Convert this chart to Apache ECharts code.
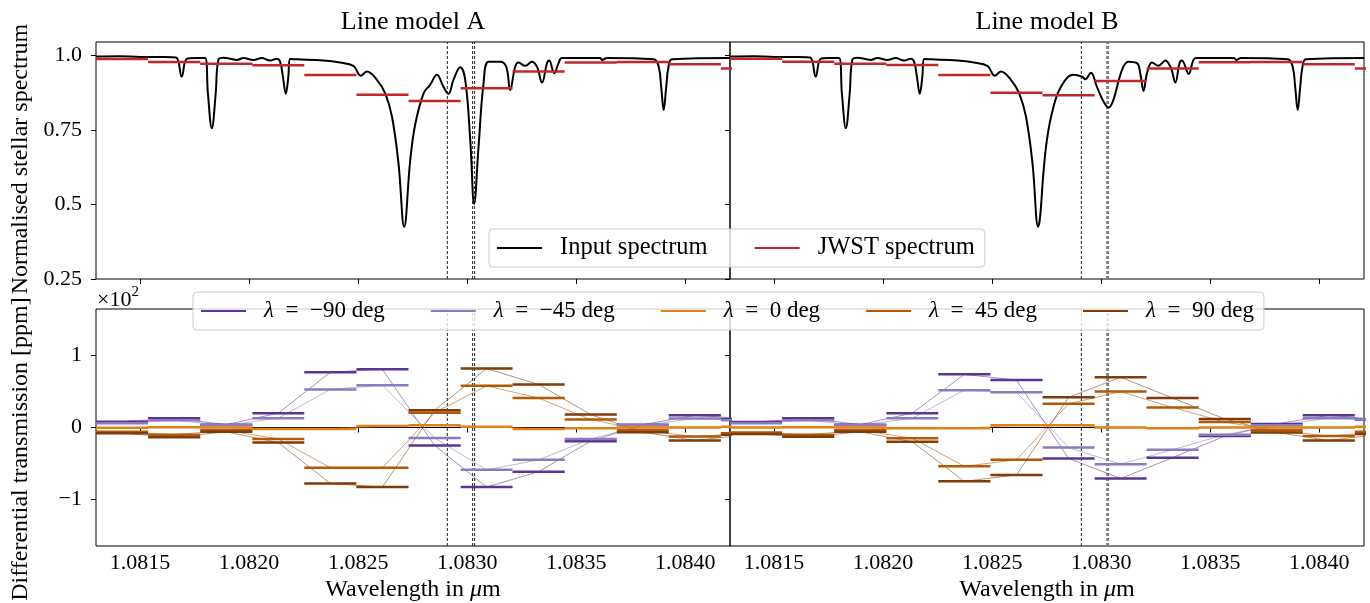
<!DOCTYPE html>
<html>
<head>
<meta charset="utf-8">
<script src="https://cdn.jsdelivr.net/npm/echarts@6.0.0/dist/echarts.min.js"></script>
<style>
  html, body { margin: 0; padding: 0; background: #fff; }
  #chart { width: 1370px; height: 603px; }
</style>
</head>
<body>
<div id="chart"></div>
<script>
// spectrum pieces, [wavelength in um, normalised flux]
const specBlue = [
  [1.081298, 0.996], [1.081408, 0.997], [1.081500, 0.995], [1.081615, 0.995], [1.081665, 0.993],
  [1.081691, 0.929], [1.081714, 0.988], [1.081752, 0.991], [1.081798, 0.991], [1.081811, 0.873],
  [1.081829, 0.756], [1.081847, 0.873], [1.081859, 0.985], [1.081882, 0.992], [1.081944, 0.985],
  [1.081974, 0.991], [1.082020, 0.985], [1.082058, 0.991], [1.082096, 0.983], [1.082127, 0.989],
  [1.082142, 0.979], [1.082155, 0.929], [1.082168, 0.871], [1.082180, 0.929], [1.082188, 0.988],
  [1.082219, 0.987], [1.082341, 0.983], [1.082417, 0.976], [1.082478, 0.965], [1.082512, 0.932],
  [1.082540, 0.946], [1.082586, 0.918], [1.082624, 0.873], [1.082655, 0.795], [1.082685, 0.638],
  [1.082711, 0.425]
]
const coreA = [
  [1.082739, 0.650], [1.082762, 0.770], [1.082800, 0.873], [1.082830, 0.901], [1.082861, 0.935],
  [1.082891, 0.895], [1.082914, 0.871], [1.082937, 0.918], [1.082968, 0.960], [1.082991, 0.918],
  [1.083014, 0.716], [1.083032, 0.502], [1.083052, 0.694], [1.083075, 0.907], [1.083098, 0.979],
  [1.083151, 0.979], [1.083179, 0.962], [1.083197, 0.884], [1.083220, 0.962], [1.083235, 0.976],
  [1.083266, 0.965], [1.083297, 0.979], [1.083320, 0.962], [1.083343, 0.909], [1.083366, 0.974],
  [1.083376, 0.983], [1.083399, 0.940], [1.083419, 0.974], [1.083434, 0.991]
]
const coreB = [
  [1.082720, 0.459], [1.082735, 0.605], [1.082751, 0.716], [1.082774, 0.806], [1.082812, 0.890],
  [1.082873, 0.935], [1.082912, 0.929], [1.082927, 0.920], [1.082953, 0.942], [1.082980, 0.895],
  [1.083011, 0.845], [1.083034, 0.825], [1.083056, 0.851], [1.083095, 0.951], [1.083125, 0.979],
  [1.083164, 0.974], [1.083179, 0.940], [1.083194, 0.881], [1.083210, 0.940], [1.083233, 0.976],
  [1.083263, 0.965], [1.083294, 0.983], [1.083320, 0.957], [1.083340, 0.909], [1.083359, 0.974],
  [1.083370, 0.983], [1.083401, 0.938], [1.083423, 0.985], [1.083439, 0.991]
]
const specRed = [
  [1.083610, 0.991], [1.083618, 0.985], [1.083641, 0.991], [1.083855, 0.987], [1.083878, 0.962],
  [1.083890, 0.890], [1.083901, 0.817], [1.083912, 0.890], [1.083923, 0.962], [1.083939, 0.987],
  [1.084206, 0.991]
]

// JWST bins
const binEdges = [1.081298, 1.081537, 1.081776, 1.082015, 1.082253, 1.082492, 1.082731,
  1.082970, 1.083208, 1.083447, 1.083686, 1.083924, 1.084163, 1.084402]
const jwstA = [0.988, 0.978, 0.972, 0.967, 0.934, 0.868, 0.847, 0.890, 0.946, 0.976, 0.978, 0.970, 0.956]
const jwstB = [0.989, 0.979, 0.972, 0.968, 0.934, 0.875, 0.866, 0.914, 0.956, 0.977, 0.978, 0.970, 0.956]

// differential transmission, x10^2 ppm
const lambdaNames = ["λ = −90 deg", "λ = −45 deg", "λ = 0 deg", "λ = 45 deg", "λ = 90 deg"]
const lambdaColors = ["#5b3594", "#8a7cbd", "#e08214", "#b35806", "#7f3b08"]
const diffA = [
  [0.08, 0.13, 0.04, 0.20, 0.77, 0.81, -0.25, -0.83, -0.615, -0.19, 0.04, 0.17, 0.12],
  [0.06, 0.10, 0.03, 0.13, 0.53, 0.59, -0.145, -0.59, -0.45, -0.16, 0.03, 0.125, 0.10],
  [-0.005, 0.005, 0.0, -0.02, -0.02, 0.02, 0.03, 0.01, -0.02, -0.01, 0.0, 0.0, 0.01],
  [-0.06, -0.10, -0.04, -0.16, -0.56, -0.56, 0.205, 0.58, 0.41, 0.11, -0.04, -0.125, -0.08],
  [-0.08, -0.135, -0.06, -0.21, -0.78, -0.83, 0.24, 0.82, 0.60, 0.18, -0.065, -0.18, -0.10]
]
const diffB = [
  [0.075, 0.13, 0.04, 0.20, 0.74, 0.66, -0.43, -0.71, -0.42, -0.12, 0.05, 0.17, 0.11],
  [0.06, 0.10, 0.03, 0.13, 0.52, 0.49, -0.28, -0.51, -0.31, -0.10, 0.03, 0.13, 0.11],
  [0.0, 0.005, 0.0, -0.01, -0.01, 0.03, 0.03, 0.0, -0.01, 0.0, 0.0, 0.0, 0.01],
  [-0.07, -0.10, -0.04, -0.15, -0.54, -0.45, 0.33, 0.50, 0.28, 0.075, -0.04, -0.12, -0.06],
  [-0.09, -0.13, -0.06, -0.20, -0.75, -0.66, 0.42, 0.70, 0.41, 0.12, -0.07, -0.18, -0.09]
]

// He triplet positions
const heLines = [1.082909, 1.083025, 1.083034]
const xTicks = [1.0815, 1.0820, 1.0825, 1.0830, 1.0835, 1.0840]
const topTicks = [0.25, 0.5, 0.75, 1.0]
const bottomTicks = [-1, 0, 1]

const FONT = '"Liberation Serif", "DejaVu Serif", serif'
const X_MIN = 1.081298, X_MAX = 1.084205
const TOP_RANGE = [0.25, 1.045], BOTTOM_RANGE = [-1.65, 1.65]

function steps(vals) {
  const out = []
  vals.forEach((v, i) => {
    out.push([binEdges[i], v], [binEdges[i + 1], v], [binEdges[i + 1], null])
  })
  return out
}
function centers(vals) {
  return vals.map((v, i) => [(binEdges[i] + binEdges[i + 1]) / 2, v])
}

const grids = [
  { left: 96, top: 42, width: 634, height: 237 },
  { left: 730, top: 42, width: 634, height: 237 },
  { left: 96, top: 309, width: 634, height: 237 },
  { left: 730, top: 309, width: 634, height: 237 }
].map(g => Object.assign(g, { show: true, borderColor: "#000", borderWidth: 1, backgroundColor: "transparent" }))

const xAxes = [0, 1, 2, 3].map(i => ({
  type: "value", gridIndex: i, min: X_MIN, max: X_MAX,
  axisLine: { show: false }, splitLine: { show: false },
  axisTick: { show: true, customValues: xTicks, length: 5, lineStyle: { color: "#000" } },
  axisLabel: {
    show: i >= 2, customValues: xTicks, margin: 6,
    formatter: v => v.toFixed(4), fontFamily: FONT, fontSize: 22, color: "#000"
  }
}))
const yAxes = [0, 1, 2, 3].map(i => {
  const top = i < 2
  const ticks = top ? topTicks : bottomTicks
  const range = top ? TOP_RANGE : BOTTOM_RANGE
  return {
    type: "value", gridIndex: i, min: range[0], max: range[1],
    axisLine: { show: false }, splitLine: { show: false },
    axisTick: { show: true, customValues: ticks, length: 5, lineStyle: { color: "#000" } },
    axisLabel: {
      show: i % 2 === 0, customValues: ticks, margin: 14,
      formatter: v => top ? (v === 1 ? "1.0" : String(v)) : (v < 0 ? "−" + Math.abs(v) : String(v)),
      fontFamily: FONT, fontSize: 22, color: "#000"
    }
  }
})

const series = []

// vertical He lines and zero line
function guide(ax, data, style) {
  series.push({
    type: "line", xAxisIndex: ax, yAxisIndex: ax, data: data, showSymbol: false,
    silent: true, lineStyle: style, z: 1
  })
}
const dashThin = { color: "#222", width: 1, type: [3, 2] }
const dashThick = { color: "#808080", width: 3, type: [3, 2] }
;[0, 1, 2, 3].forEach(ax => {
  const r = ax < 2 ? TOP_RANGE : BOTTOM_RANGE
  const modelA = ax % 2 === 0
  guide(ax, [[heLines[0], r[0]], [heLines[0], r[1]]], dashThin)
  if (modelA) {
    guide(ax, [[heLines[1], r[0]], [heLines[1], r[1]]], dashThin)
    guide(ax, [[heLines[2], r[0]], [heLines[2], r[1]]], dashThin)
  } else {
    const w = (heLines[1] + heLines[2]) / 2
    guide(ax, [[w, r[0]], [w, r[1]]], dashThick)
  }
  if (ax >= 2) guide(ax, [[X_MIN, 0], [X_MAX, 0]], { color: "#000", width: 1 })
})

const specA = specBlue.concat(coreA, specRed)
const specB = specBlue.concat(coreB, specRed)
;[specA, specB].forEach((data, i) => {
  series.push({
    type: "line", name: "Input spectrum", xAxisIndex: i, yAxisIndex: i, data: data,
    showSymbol: false, smooth: 0.4, lineStyle: { color: "#000", width: 2 }, itemStyle: { color: "#000" }, z: 2
  })
})
;[jwstA, jwstB].forEach((vals, i) => {
  series.push({
    type: "line", name: "JWST spectrum", xAxisIndex: i, yAxisIndex: i, data: steps(vals),
    showSymbol: false, lineStyle: { color: "#c0282b", width: 2.5 }, itemStyle: { color: "#c0282b" }, z: 3
  })
})
;[diffA, diffB].forEach((set, p) => {
  const ax = p + 2
  set.forEach((vals, k) => {
    const c = lambdaColors[k]
    series.push({
      type: "line", name: lambdaNames[k], xAxisIndex: ax, yAxisIndex: ax, data: steps(vals),
      showSymbol: false, lineStyle: { color: c, width: 2.5 }, itemStyle: { color: c }, z: 3
    })
    series.push({
      type: "line", name: lambdaNames[k], xAxisIndex: ax, yAxisIndex: ax, data: centers(vals),
      showSymbol: false, lineStyle: { color: c, width: 1, opacity: 0.55 }, itemStyle: { color: c }, z: 2
    })
  })
})

const legendBase = {
  orient: "horizontal", itemWidth: 45, itemHeight: 2, selectedMode: false,
  borderColor: "#cccccc", borderWidth: 1, borderRadius: 4, backgroundColor: "rgba(255,255,255,0.8)",
  textStyle: {
    fontFamily: FONT, fontSize: 23, color: "#000", lineHeight: 26, padding: [0, 0, 0, 13],
    rich: { i: { fontFamily: FONT, fontSize: 23, fontStyle: "italic", color: "#000" } }
  }
}

const option = {
  animation: false,
  backgroundColor: "#fff",
  grid: grids,
  xAxis: xAxes,
  yAxis: yAxes,
  legend: [
    Object.assign({}, legendBase, {
      left: 489, top: 229, itemGap: 47, padding: [6, 10, 6, 8],
      textStyle: Object.assign({}, legendBase.textStyle, { fontSize: 24.5 }),
      data: [{ name: "Input spectrum", icon: "rect" }, { name: "JWST spectrum", icon: "rect" }]
    }),
    Object.assign({}, legendBase, {
      left: 193, top: 292, itemGap: 46, padding: [6, 10, 6, 8],
      formatter: n => n.replace("λ", "{i|λ}").replace(" = ", "\u2002=\u2002"),
      data: lambdaNames.map(n => ({ name: n, icon: "rect" }))
    })
  ],
  graphic: [
    { type: "text", x: 413, y: 22, style: { text: "Line model A", fontFamily: FONT, fontSize: 26, fill: "#000", align: "center", verticalAlign: "middle" } },
    { type: "text", x: 1047, y: 22, style: { text: "Line model B", fontFamily: FONT, fontSize: 26, fill: "#000", align: "center", verticalAlign: "middle" } },
    { type: "text", x: 21, y: 159, rotation: Math.PI / 2, style: { text: "Normalised stellar spectrum", fontFamily: FONT, fontSize: 24, fill: "#000", align: "center", verticalAlign: "middle" } },
    { type: "text", x: 21, y: 449, rotation: Math.PI / 2, style: { text: "Differential transmission [ppm]", fontFamily: FONT, fontSize: 24, fill: "#000", align: "center", verticalAlign: "middle" } },
    ...[413, 1047].map(cx => ({
      type: "text", x: cx, y: 590,
      style: {
        text: "Wavelength in {i|μ}m", fontFamily: FONT, fontSize: 24, fill: "#000", align: "center", verticalAlign: "middle",
        rich: { i: { fontFamily: FONT, fontSize: 24, fontStyle: "italic", fill: "#000" } }
      }
    })),
    {
      type: "text", x: 97, y: 285,
      style: {
        text: "{a|×10}{s|2}", fill: "#000",
        rich: {
          a: { fontFamily: FONT, fontSize: 22, lineHeight: 26, verticalAlign: "bottom", fill: "#000" },
          s: { fontFamily: FONT, fontSize: 15, verticalAlign: "top", fill: "#000" }
        }
      }
    }
  ],
  series: series
}

const myChart = echarts.init(document.getElementById("chart"), null, { renderer: "canvas" })
myChart.setOption(option)
</script>
</body>
</html>
